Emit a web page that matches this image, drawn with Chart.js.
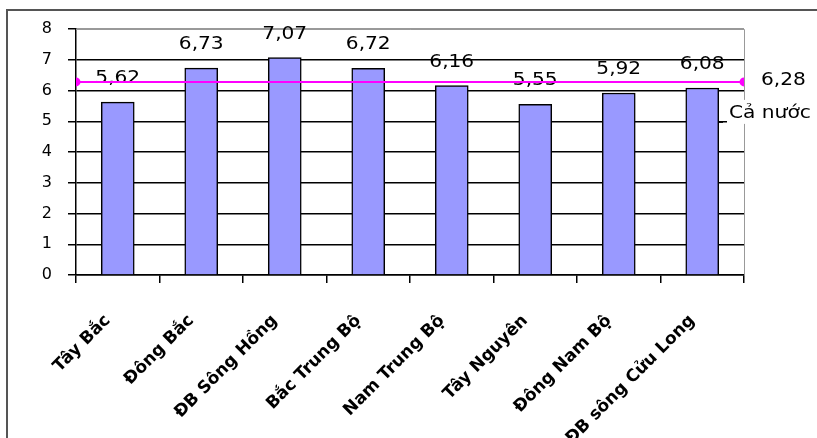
<!DOCTYPE html>
<html>
<head>
<meta charset="utf-8">
<script src="https://cdn.jsdelivr.net/npm/chart.js@4"></script>
<style>
  html, body { margin: 0; padding: 0; background: #fff; }
  #wrap { position: relative; width: 817px; height: 438px; }
</style>
</head>
<body>
<div id="wrap"><canvas id="chart" width="817" height="438"></canvas></div>
<script>
const regions = ['Tây Bắc', 'Đông Bắc', 'ĐB Sông Hồng', 'Bắc Trung Bộ', 'Nam Trung Bộ', 'Tây Nguyên', 'Đông Nam Bộ', 'ĐB sông Cửu Long']
const values = [5.62, 6.73, 7.07, 6.72, 6.16, 5.55, 5.92, 6.08]
const nationalValue = 6.28
const nationalLabel = 'Cả nước'
const yTicks = [0, 1, 2, 3, 4, 5, 6, 7, 8]

const fmt = (v) => v.toFixed(2).replace('.', ',')

// text drawn a little wider, like the original picture
function wideText(c, text, x, y, sx) {
    c.save()
    c.translate(x, y)
    c.scale(sx, 1)
    c.fillText(text, 0, 0)
    c.restore()
}

const decor = {
    id: 'decor',
    beforeDraw: (chart) => {
        const c = chart.ctx
        c.save()
        c.fillStyle = '#fff'
        c.fillRect(0, 0, chart.width, chart.height)
        c.strokeStyle = '#555'
        c.lineWidth = 2
        c.beginPath()
        c.moveTo(7, 438)
        c.lineTo(7, 10)
        c.lineTo(817, 10)
        c.stroke()
        c.restore()
    },
    afterDatasetDraw: (chart, args) => {
        if (args.index !== 0) return
        const c = chart.ctx
        const a = chart.chartArea
        c.save()
        // plot area border (top / right)
        c.strokeStyle = '#999'
        c.lineWidth = 1
        c.beginPath()
        c.moveTo(a.left, a.top + 0.5)
        c.lineTo(a.right + 0.5, a.top + 0.5)
        c.lineTo(a.right + 0.5, a.bottom)
        c.stroke()
        // value labels
        c.fillStyle = '#000'
        c.font = '18px "DejaVu Sans"'
        c.textAlign = 'center'
        c.textBaseline = 'alphabetic'
        args.meta.data.forEach((bar, i) => {
            wideText(c, fmt(values[i]), bar.x, bar.y - 19, 1.12)
        })
        c.restore()
    },
    afterDatasetsDraw: (chart) => {
        const c = chart.ctx
        const a = chart.chartArea
        const y = chart.scales.y.getPixelForValue(nationalValue)
        c.save()
        c.font = '18px "DejaVu Sans"'
        c.textBaseline = 'middle'
        c.textAlign = 'left'
        c.fillStyle = '#000'
        wideText(c, fmt(nationalValue), a.right + 17, y - 2, 1.12)
        const w = c.measureText(nationalLabel).width * 1.12
        c.fillStyle = '#fff'
        c.fillRect(a.right - 17, y + 18, w + 4, 24)
        c.fillStyle = '#000'
        wideText(c, nationalLabel, a.right - 15, y + 31, 1.12)
        c.strokeStyle = '#000'
        c.lineWidth = 1
        c.beginPath()
        c.moveTo(a.right - 26, y + 40.5)
        c.lineTo(a.right - 21, y + 40.5)
        c.stroke()

        // rotated category labels
        const xs = chart.scales.x
        c.font = 'bold 17px "DejaVu Sans"'
        c.textAlign = 'right'
        c.textBaseline = 'top'
        c.fillStyle = '#000'
        regions.forEach((name, i) => {
            c.save()
            c.translate(xs.getPixelForValue(i) - 16, a.bottom + 37)
            c.rotate(-Math.PI / 4)
            c.fillText(name, 0, 0)
            c.restore()
        })
        c.restore()
    }
}

const chart = new Chart(document.getElementById('chart'), {
    data: {
        labels: regions,
        datasets: [{
            type: 'bar',
            data: values,
            backgroundColor: '#9999FF',
            borderColor: '#000',
            borderWidth: 1.5,
            barThickness: 33,
            grouped: false,
            order: 1
        }, {
            type: 'line',
            xAxisID: 'x2',
            data: [{ x: 0, y: nationalValue }, { x: 1, y: nationalValue }],
            borderColor: '#FF00FF',
            backgroundColor: '#FF00FF',
            borderWidth: 2,
            pointStyle: 'circle',
            pointRadius: 3.5,
            order: 0
        }]
    },
    options: {
        responsive: false,
        animation: false,
        layout: { padding: { top: 29, right: 73, left: 0, bottom: 0 } },
        plugins: {
            legend: { display: false },
            tooltip: { enabled: false }
        },
        scales: {
            x: {
                type: 'category',
                offset: true,
                grid: {
                    offset: true,
                    drawOnChartArea: false,
                    drawTicks: true,
                    tickLength: 8,
                    color: '#000',
                    lineWidth: 1.5
                },
                border: { color: '#000', width: 1.5 },
                ticks: { display: false },
                afterFit: (s) => { s.height = 163 }
            },
            x2: {
                type: 'linear',
                display: false,
                min: 0,
                max: 1
            },
            y: {
                min: 0,
                max: 8,
                afterBuildTicks: (s) => { s.ticks = yTicks.map(v => ({ value: v })) },
                grid: {
                    color: (ctx) => ctx.tick && ctx.tick.value === 8 ? '#999' : '#000',
                    tickColor: '#000',
                    lineWidth: 1.5,
                    tickLength: 8
                },
                border: { color: '#000', width: 1.5 },
                ticks: {
                    padding: 16,
                    color: '#000',
                    font: { family: 'DejaVu Sans', size: 16 }
                },
                afterFit: (s) => { s.width = 76 }
            }
        }
    },
    plugins: [decor]
})
</script>
</body>
</html>
